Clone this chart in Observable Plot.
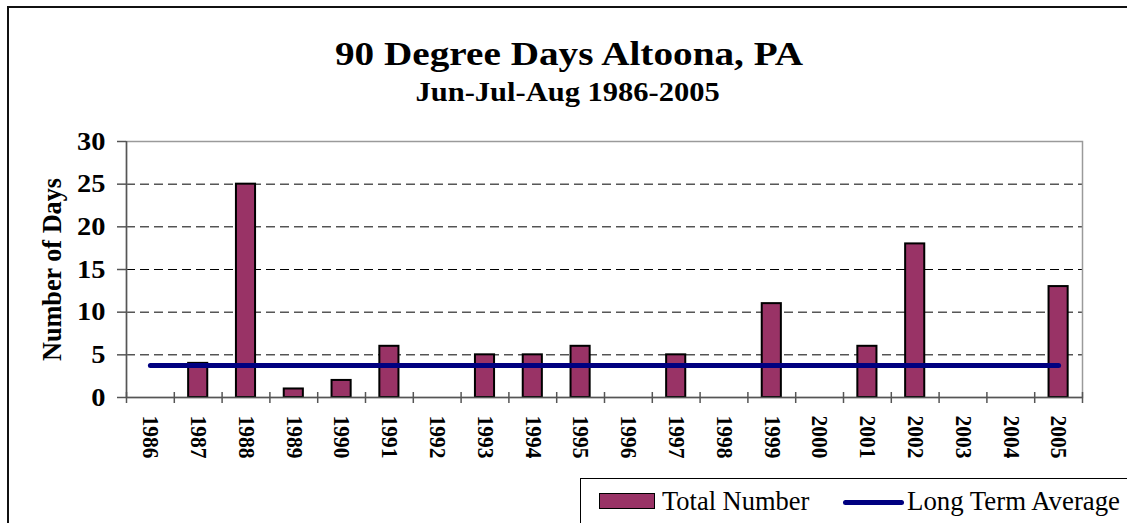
<!DOCTYPE html>
<html><head><meta charset="utf-8">
<script src="https://cdn.jsdelivr.net/npm/d3@7"></script>
<script src="https://cdn.jsdelivr.net/npm/@observablehq/plot@0.6"></script>
<style>
body{margin:0;background:#fff;}
#wrap{position:relative;width:1127px;height:523px;overflow:hidden;background:#fff;color:#000;}
#outer{position:absolute;left:7px;top:6px;width:1118px;height:600px;border-left:2px solid #111;border-top:2px solid #111;}
#chart{position:absolute;left:0;top:0;}
.t{position:absolute;width:1000px;text-align:center;font-weight:bold;line-height:1;white-space:nowrap;}
.t span,.lt span{display:inline-block;white-space:nowrap;}
.t span{transform-origin:50% 50%;}
.lt span{transform-origin:0 50%;}
#title{left:69.5px;}
#subtitle{left:67.5px;}
#legend{position:absolute;left:580px;top:478px;width:600px;height:80px;border:1.5px solid #000;}
.lt{position:absolute;line-height:1;white-space:nowrap;}
#sw1{position:absolute;left:599px;top:493px;width:56px;height:16px;box-sizing:border-box;border:1.5px solid #000;background:#993366;}
#sw2{position:absolute;left:843px;top:499.5px;width:61px;height:5px;background:#000080;border-radius:2.5px;}
</style></head>
<body>
<div id="wrap">
  <div id="outer"></div>
  <div id="chart"></div>
  <div class="t" id="title"><span>90 Degree Days Altoona, PA</span></div>
  <div class="t" id="subtitle"><span>Jun-Jul-Aug 1986-2005</span></div>
  <div id="legend"></div>
  <div id="sw1"></div>
  <div class="lt" id="l1" style="left:662px;"><span>Total Number</span></div>
  <div id="sw2"></div>
  <div class="lt" id="l2" style="left:907px;"><span>Long Term Average</span></div>
</div>
<script>
const years = ["1986","1987","1988","1989","1990","1991","1992","1993","1994","1995","1996","1997","1998","1999","2000","2001","2002","2003","2004","2005"];
const totalNumber = [0,4,25,1,2,6,0,5,5,6,0,5,0,11,0,6,18,0,0,13];
const longTermAverage = 3.75;
const yTicks = [0,5,10,15,20,25,30];
const gridValues = [5,10,15,20,25];
const yLabel = "Number of Days";

const rows = years.map((y, i) => ({year: y, total: totalNumber[i], avg: longTermAverage}));

// font detection: prefer a Times-metric serif, else DejaVu Serif
function hasFont(name) {
  const c = document.createElement("canvas").getContext("2d");
  const s = "mmmmmmmmmmlliWW90Ag";
  c.font = "40px monospace"; const a = c.measureText(s).width;
  c.font = `40px '${name}', monospace`; const b = c.measureText(s).width;
  return Math.abs(a - b) > 0.5;
}
const liberation = hasFont("Liberation Serif");
const FONT = liberation ? "'Liberation Serif', serif" : "'DejaVu Serif', serif";
const CAP = liberation ? 0.662 : 0.729;
const fs = cap => +(cap / CAP).toFixed(1);
document.getElementById("wrap").style.fontFamily = FONT;

const W = 1127, H = 523;
const mL = 126, mR = 45, mT = 141, mB = 126;
const step = (W - mL - mR) / years.length;

const chart = Plot.plot({
  width: W, height: H,
  marginLeft: mL, marginRight: mR, marginTop: mT, marginBottom: mB,
  style: {fontFamily: FONT, background: "transparent", color: "#000"},
  x: {domain: years, type: "band", paddingInner: 0.6, paddingOuter: 0.3, round: false, axis: null},
  y: {domain: [0, 30], axis: null},
  marks: [
    Plot.gridY(gridValues, {stroke: "#000", strokeOpacity: 1, strokeDasharray: "9,5", strokeWidth: 1}),
    Plot.frame({stroke: "#9a9a9a", strokeWidth: 1.5}),
    Plot.barY(rows, {x: "year", y: "total", fill: "#993366", stroke: "#000", strokeWidth: 2}),
    Plot.ruleY([0], {stroke: "#555", strokeWidth: 1.5}),
    Plot.ruleX([years[0]], {dx: -step/2, stroke: "#555", strokeWidth: 1.5}),
    Plot.ruleX(years, {x: d => d, y1: 0, y2: 0, insetTop: 6, insetBottom: 5, dx: -step/2, stroke: "#555", strokeWidth: 1.5}),
    Plot.ruleX([years[years.length-1]], {x: d => d, y1: 0, y2: 0, insetTop: 6, insetBottom: 5, dx: step/2, stroke: "#555", strokeWidth: 1.5}),
    Plot.line(rows, {x: "year", y: "avg", stroke: "#000080", strokeWidth: 5, strokeLinecap: "round"}),
    Plot.axisY(yTicks, {tickSize: 9, tickPadding: 12, fontSize: fs(16.7), fontWeight: "bold", label: null, stroke: "#555", strokeWidth: 1.5}),
    Plot.axisX({tickSize: 0, tickPadding: 18, tickRotate: 90, fontSize: fs(15), fontWeight: "bold", label: null}),
    Plot.text([yLabel], {frameAnchor: "left", rotate: -90, dx: -74, textAnchor: "middle", fontSize: fs(18), fontWeight: "bold"})
  ]
});
document.getElementById("chart").appendChild(chart);

// fit text lengths to the reference's proportions
const svg = d3.select(chart);
svg.selectAll("g[aria-label='y-axis tick label'] text").each(function() {
  const n = this.textContent.length;
  d3.select(this).attr("textLength", n * 14.2).attr("lengthAdjust", "spacingAndGlyphs");
});
svg.selectAll("g[aria-label='x-axis tick label'] text")
  .attr("textLength", 43).attr("lengthAdjust", "spacingAndGlyphs");
svg.selectAll("g[aria-label='text'] text")
  .attr("textLength", 183).attr("lengthAdjust", "spacingAndGlyphs");

// HTML texts: size by cap height, stretch to reference width, place by baseline
function place(id, cap, targetWidth, baseline) {
  const el = document.getElementById(id);
  const span = el.querySelector("span");
  const size = fs(cap);
  el.style.fontSize = size + "px";
  const w = span.offsetWidth;
  span.style.transform = `scaleX(${targetWidth / w})`;
  // baseline offset inside a line-height:1 box
  const probe = document.createElement("span");
  probe.style.cssText = "display:inline-block;width:0;height:0;vertical-align:baseline;";
  span.appendChild(probe);
  const top0 = el.getBoundingClientRect().top;
  const bl = probe.getBoundingClientRect().top - top0;
  span.removeChild(probe);
  el.style.top = (baseline - bl) + "px";
}
el => el;
document.getElementById("title").style.top = "0px";
document.getElementById("subtitle").style.top = "0px";
document.getElementById("l1").style.top = "0px";
document.getElementById("l2").style.top = "0px";
place("title", 22, 468, 65);
place("subtitle", 17.5, 304, 101);
place("l1", 18, 147, 510);
place("l2", 18, 213, 510);
</script>
</body></html>
